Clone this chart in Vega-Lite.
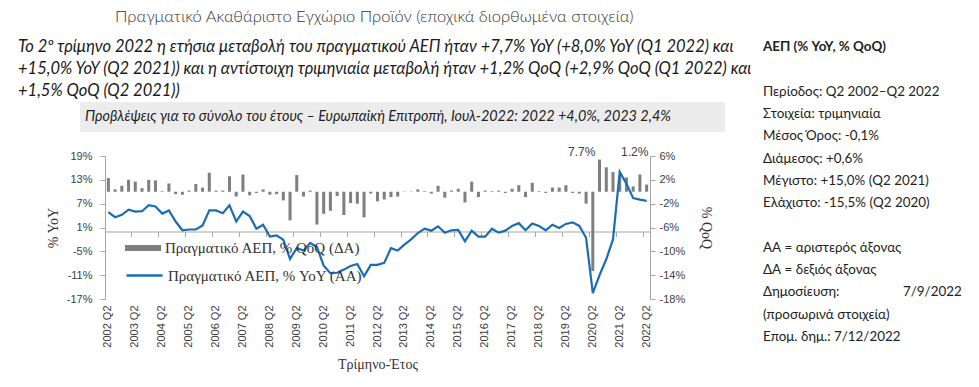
{
  "$schema": "https://vega.github.io/schema/vega-lite/v6.json",
  "background": "white",
  "padding": {"top": 8, "left": 0, "right": 0, "bottom": 0},
  "title": {"text": "Πραγματικό Ακαθάριστο Εγχώριο Προϊόν (εποχικά διορθωμένα στοιχεία)", "anchor": "start", "dx": 115, "offset": 11, "font": "Lato", "fontSize": 16.5, "fontWeight": 300, "color": "#333333"},
  "datasets": {
    "gdp": [
      {"q": "2002 Q2", "yoy": 4.9, "qoq": 2.3},
      {"q": "2002 Q3", "yoy": 3.6, "qoq": 0.4},
      {"q": "2002 Q4", "yoy": 4.2, "qoq": 1.0},
      {"q": "2003 Q1", "yoy": 5.5, "qoq": 2.0},
      {"q": "2003 Q2", "yoy": 5.0, "qoq": 1.7},
      {"q": "2003 Q3", "yoy": 5.1, "qoq": 0.6},
      {"q": "2003 Q4", "yoy": 6.6, "qoq": 2.0},
      {"q": "2004 Q1", "yoy": 6.3, "qoq": 1.9},
      {"q": "2004 Q2", "yoy": 4.5, "qoq": 0.1},
      {"q": "2004 Q3", "yoy": 5.3, "qoq": 1.4},
      {"q": "2004 Q4", "yoy": 2.5, "qoq": -0.4},
      {"q": "2005 Q1", "yoy": 0.3, "qoq": -0.5},
      {"q": "2005 Q2", "yoy": 0.5, "qoq": 0.2},
      {"q": "2005 Q3", "yoy": 0.5, "qoq": 1.3},
      {"q": "2005 Q4", "yoy": 1.5, "qoq": 0.7},
      {"q": "2006 Q1", "yoy": 5.3, "qoq": 3.2},
      {"q": "2006 Q2", "yoy": 5.3, "qoq": 0.2},
      {"q": "2006 Q3", "yoy": 4.6, "qoq": 0.2},
      {"q": "2006 Q4", "yoy": 6.6, "qoq": 2.6},
      {"q": "2007 Q1", "yoy": 2.5, "qoq": -0.8},
      {"q": "2007 Q2", "yoy": 5.0, "qoq": 2.9},
      {"q": "2007 Q3", "yoy": 3.9, "qoq": -0.6},
      {"q": "2007 Q4", "yoy": 0.7, "qoq": -0.2},
      {"q": "2008 Q1", "yoy": 1.7, "qoq": 0.4},
      {"q": "2008 Q2", "yoy": -1.3, "qoq": -0.5},
      {"q": "2008 Q3", "yoy": -1.0, "qoq": -0.4},
      {"q": "2008 Q4", "yoy": -2.1, "qoq": -1.45},
      {"q": "2009 Q1", "yoy": -6.9, "qoq": -4.8},
      {"q": "2009 Q2", "yoy": -4.2, "qoq": 2.8},
      {"q": "2009 Q3", "yoy": -4.8, "qoq": -0.8},
      {"q": "2009 Q4", "yoy": -2.9, "qoq": 0.2},
      {"q": "2010 Q1", "yoy": -3.9, "qoq": -5.5},
      {"q": "2010 Q2", "yoy": -8.6, "qoq": -3.7},
      {"q": "2010 Q3", "yoy": -10.5, "qoq": -3.2},
      {"q": "2010 Q4", "yoy": -10.4, "qoq": -0.7},
      {"q": "2011 Q1", "yoy": -9.6, "qoq": -3.9},
      {"q": "2011 Q2", "yoy": -8.7, "qoq": -1.9},
      {"q": "2011 Q3", "yoy": -8.2, "qoq": -2.0},
      {"q": "2011 Q4", "yoy": -11.3, "qoq": -4.3},
      {"q": "2012 Q1", "yoy": -8.4, "qoq": -0.3},
      {"q": "2012 Q2", "yoy": -8.4, "qoq": -1.6},
      {"q": "2012 Q3", "yoy": -7.9, "qoq": -1.3},
      {"q": "2012 Q4", "yoy": -4.2, "qoq": -0.9},
      {"q": "2013 Q1", "yoy": -4.8, "qoq": -0.8},
      {"q": "2013 Q2", "yoy": -3.3, "qoq": 0.05},
      {"q": "2013 Q3", "yoy": -2.0, "qoq": 0.05},
      {"q": "2013 Q4", "yoy": -0.4, "qoq": 0.4},
      {"q": "2014 Q1", "yoy": 0.7, "qoq": 0.1},
      {"q": "2014 Q2", "yoy": 0.2, "qoq": -0.3},
      {"q": "2014 Q3", "yoy": 1.3, "qoq": 1.0},
      {"q": "2014 Q4", "yoy": -0.3, "qoq": -1.0},
      {"q": "2015 Q1", "yoy": 0.3, "qoq": 0.2},
      {"q": "2015 Q2", "yoy": 0.4, "qoq": 0.5},
      {"q": "2015 Q3", "yoy": -2.5, "qoq": -1.8},
      {"q": "2015 Q4", "yoy": 0.2, "qoq": 1.7},
      {"q": "2016 Q1", "yoy": -1.3, "qoq": -0.9},
      {"q": "2016 Q2", "yoy": -1.3, "qoq": 0.2},
      {"q": "2016 Q3", "yoy": 0.7, "qoq": 0.1},
      {"q": "2016 Q4", "yoy": -0.3, "qoq": 0.2},
      {"q": "2017 Q1", "yoy": 0.2, "qoq": -0.2},
      {"q": "2017 Q2", "yoy": 1.4, "qoq": 0.5},
      {"q": "2017 Q3", "yoy": 2.1, "qoq": 1.1},
      {"q": "2017 Q4", "yoy": 0.3, "qoq": -0.9},
      {"q": "2018 Q1", "yoy": 2.0, "qoq": 1.5},
      {"q": "2018 Q2", "yoy": 1.4, "qoq": 0.1},
      {"q": "2018 Q3", "yoy": 0.3, "qoq": -0.2},
      {"q": "2018 Q4", "yoy": 1.7, "qoq": 0.7},
      {"q": "2019 Q1", "yoy": 0.9, "qoq": 0.7},
      {"q": "2019 Q2", "yoy": 1.9, "qoq": 1.1},
      {"q": "2019 Q3", "yoy": 2.3, "qoq": -0.2},
      {"q": "2019 Q4", "yoy": 1.4, "qoq": -0.3},
      {"q": "2020 Q1", "yoy": -1.6, "qoq": -2.0},
      {"q": "2020 Q2", "yoy": -15.5, "qoq": -13.3},
      {"q": "2020 Q3", "yoy": -11.0, "qoq": 5.4},
      {"q": "2020 Q4", "yoy": -7.0, "qoq": 4.1},
      {"q": "2021 Q1", "yoy": -2.0, "qoq": 3.3},
      {"q": "2021 Q2", "yoy": 15.0, "qoq": 2.7},
      {"q": "2021 Q3", "yoy": 12.0, "qoq": 2.4},
      {"q": "2021 Q4", "yoy": 8.4, "qoq": 0.9},
      {"q": "2022 Q1", "yoy": 8.0, "qoq": 2.9},
      {"q": "2022 Q2", "yoy": 7.7, "qoq": 1.2}
    ],
    "para": [
      {"line": 1, "text": "Το 2º τρίμηνο 2022 η ετήσια μεταβολή του πραγματικού ΑΕΠ ήταν +7,7% YoY (+8,0% YoY (Q1 2022) και"},
      {"line": 2, "text": "+15,0% YoY (Q2 2021)) και η αντίστοιχη τριμηνιαία μεταβολή ήταν +1,2% QoQ (+2,9% QoQ (Q1 2022) και"},
      {"line": 3, "text": "+1,5% QoQ (Q2 2021))"}
    ],
    "info": [
      {"k": 0, "text": "ΑΕΠ (% YoY, % QoQ)"},
      {"k": 1, "text": ""},
      {"k": 2, "text": "Περίοδος: Q2 2002–Q2 2022"},
      {"k": 3, "text": "Στοιχεία: τριμηνιαία"},
      {"k": 4, "text": "Μέσος Όρος: -0,1%"},
      {"k": 5, "text": "Διάμεσος: +0,6%"},
      {"k": 6, "text": "Μέγιστο: +15,0% (Q2 2021)"},
      {"k": 7, "text": "Ελάχιστο: -15,5% (Q2 2020)"},
      {"k": 8, "text": ""},
      {"k": 9, "text": "ΑΑ = αριστερός άξονας"},
      {"k": 10, "text": "ΔΑ = δεξιός άξονας"},
      {"k": 11, "text": "Δημοσίευση:", "right": "7/9/2022"},
      {"k": 12, "text": "(προσωρινά στοιχεία)"},
      {"k": 13, "text": "Επομ. δημ.: 7/12/2022"}
    ]
  },
  "spacing": 10,
  "hconcat": [
    {
      "spacing": 0,
      "vconcat": [
        {
          "width": 745, "height": 66,
          "data": {"name": "para"},
          "mark": {"type": "text", "align": "left", "baseline": "middle", "font": "Lato", "fontSize": 16.5, "fontStyle": "italic", "color": "#1a1a1a", "dx": 18},
          "encoding": {
            "x": {"value": 0},
            "y": {"field": "line", "type": "ordinal", "axis": null},
            "text": {"field": "text"}
          }
        },
        {
          "bounds": "flush",
          "spacing": 0,
          "hconcat": [
            {"width": 80, "height": 30, "data": {"values": [{}]}, "mark": {"type": "text", "text": ""}},
            {
              "width": 645, "height": 30,
              "view": {"fill": "#ececec", "stroke": null},
              "data": {"values": [{"text": "Προβλέψεις για το σύνολο του έτους – Ευρωπαϊκή Επιτροπή, Ιουλ-2022: 2022 +4,0%, 2023 2,4%"}]},
              "mark": {"type": "text", "align": "left", "baseline": "middle", "font": "Lato", "fontSize": 14.4, "fontStyle": "italic", "color": "#222222", "dx": 5},
              "encoding": {"x": {"value": 0}, "text": {"field": "text"}}
            }
          ]
        },
        {"width": 725, "height": 14, "data": {"values": [{}]}, "mark": {"type": "text", "text": ""}},
        {
          "bounds": "flush",
          "spacing": 0,
          "hconcat": [
            {"width": 105, "height": 143, "data": {"values": [{}]}, "mark": {"type": "text", "text": ""}},
            {
              "width": 545, "height": 143,
              "data": {"name": "gdp"},
              "layer": [
                {
                  "mark": {"type": "bar", "width": {"band": 0.45}},
                  "encoding": {
                    "x": {
                      "field": "q", "type": "ordinal", "sort": null,
                      "scale": {"type": "band", "paddingInner": 0, "paddingOuter": 0},
                      "axis": {
                        "orient": "bottom",
                        "values": ["2002 Q2","2003 Q2","2004 Q2","2005 Q2","2006 Q2","2007 Q2","2008 Q2","2009 Q2","2010 Q2","2011 Q2","2012 Q2","2013 Q2","2014 Q2","2015 Q2","2016 Q2","2017 Q2","2018 Q2","2019 Q2","2020 Q2","2021 Q2","2022 Q2"],
                        "labelAngle": -90, "labelAlign": "right", "labelBaseline": "middle", "labelPadding": 6,
                        "labelFont": "Liberation Sans", "labelFontSize": 11, "labelColor": "#404040", "labelOverlap": false,
                        "ticks": false, "domain": false,
                        "title": "Τρίμηνο-Έτος", "titleFont": "Liberation Serif", "titleFontSize": 14, "titleFontWeight": "normal", "titleColor": "#333333", "titlePadding": 10
                      }
                    },
                    "y": {
                      "field": "qoq", "type": "quantitative",
                      "scale": {"domain": [-18, 6], "nice": false, "zero": false},
                      "axis": {
                        "orient": "right", "values": [-18, -14, -10, -6, -2, 2, 6],
                        "labelExpr": "datum.value + '%'", "labelFont": "Liberation Sans", "labelFontSize": 11, "labelColor": "#404040", "labelOverlap": false,
                        "tickSize": 5, "tickColor": "#a6a6a6", "domainColor": "#a6a6a6", "labelPadding": 4, "grid": false,
                        "title": "% QoQ", "titleFont": "Liberation Serif", "titleFontSize": 14, "titleFontWeight": "normal", "titleColor": "#333333", "titlePadding": 14
                      }
                    },
                    "color": {
                      "datum": "Πραγματικό ΑΕΠ, % QoQ (ΔΑ)",
                      "scale": {"range": ["#7f7f7f"]},
                      "legend": {
                        "orient": "none", "legendX": 125, "legendY": 194, "title": null,
                        "symbolType": "M-1,-0.17H1V0.17H-1Z", "symbolSize": 1296, "symbolStrokeWidth": 0,
                        "labelFont": "Liberation Serif", "labelFontSize": 15, "labelColor": "#333333", "labelLimit": 0, "labelOffset": 4
                      }
                    }
                  }
                },
                {
                  "mark": {"type": "line", "strokeWidth": 2.2},
                  "encoding": {
                    "x": {
                      "field": "q", "type": "ordinal", "sort": null,
                      "axis": {
                        "orient": "top", "offset": -75.5, "labels": false, "title": null,
                        "values": ["2002 Q2","2003 Q2","2004 Q2","2005 Q2","2006 Q2","2007 Q2","2008 Q2","2009 Q2","2010 Q2","2011 Q2","2012 Q2","2013 Q2","2014 Q2","2015 Q2","2016 Q2","2017 Q2","2018 Q2","2019 Q2","2020 Q2","2021 Q2","2022 Q2"],
                        "bandPosition": 0, "tickSize": -5, "tickColor": "#a6a6a6", "domainColor": "#a6a6a6", "grid": false
                      }
                    },
                    "y": {
                      "field": "yoy", "type": "quantitative",
                      "scale": {"domain": [-17, 19], "nice": false, "zero": false},
                      "axis": {
                        "orient": "left", "values": [-17, -11, -5, 1, 7, 13, 19],
                        "labelExpr": "datum.value + '%'", "labelFont": "Liberation Sans", "labelFontSize": 11, "labelColor": "#404040", "labelOverlap": false,
                        "tickSize": 5, "tickColor": "#a6a6a6", "domainColor": "#a6a6a6", "labelPadding": 8, "grid": false,
                        "title": "% YoY", "titleFont": "Liberation Serif", "titleFontSize": 14, "titleFontWeight": "normal", "titleColor": "#333333", "titlePadding": 6
                      }
                    },
                    "stroke": {
                      "datum": "Πραγματικό ΑΕΠ, % YoY (ΑΑ)",
                      "scale": {"range": ["#1b6db3"]},
                      "legend": {
                        "orient": "none", "legendX": 125, "legendY": 220, "title": null,
                        "symbolType": "stroke", "symbolSize": 1296, "symbolStrokeWidth": 2.5,
                        "labelFont": "Liberation Serif", "labelFontSize": 15, "labelColor": "#333333", "labelLimit": 0, "labelOffset": 4
                      }
                    }
                  }
                },
                {
                  "transform": [{"filter": "datum.q == '2022 Q2'"}],
                  "layer": [
                    {
                      "mark": {"type": "text", "text": "7.7%", "font": "Liberation Sans", "fontSize": 12, "color": "#404040", "align": "center", "baseline": "middle", "dx": -65}
                    },
                    {
                      "mark": {"type": "text", "text": "1.2%", "font": "Liberation Sans", "fontSize": 12, "color": "#404040", "align": "center", "baseline": "middle", "dx": -12}
                    }
                  ],
                  "encoding": {
                    "x": {"field": "q", "type": "ordinal", "sort": null, "axis": null},
                    "y": {"datum": 20, "type": "quantitative", "axis": null, "scale": {"domain": [-17, 19], "nice": false, "zero": false}}
                  }
                }
              ],
              "resolve": {"scale": {"y": "independent"}, "axis": {"x": "independent", "y": "independent"}}
            }
          ]
        }
      ]
    },
    {
      "width": 224, "height": 312,
      "data": {"name": "info"},
      "layer": [
        {
          "transform": [{"filter": "datum.k == 0"}],
          "mark": {"type": "text", "align": "left", "baseline": "middle", "font": "Lato", "fontSize": 13.4, "fontWeight": "bold", "color": "#222222"},
          "encoding": {
            "x": {"value": 0},
            "y": {"field": "k", "type": "ordinal", "axis": null, "scale": {"domain": [0,1,2,3,4,5,6,7,8,9,10,11,12,13]}},
            "text": {"field": "text"}
          }
        },
        {
          "transform": [{"filter": "datum.k > 0"}],
          "mark": {"type": "text", "align": "left", "baseline": "middle", "font": "Lato", "fontSize": 13.4, "color": "#222222"},
          "encoding": {
            "x": {"value": 0},
            "y": {"field": "k", "type": "ordinal", "axis": null},
            "text": {"field": "text"}
          }
        },
        {
          "transform": [{"filter": "datum.right != null"}],
          "mark": {"type": "text", "align": "left", "baseline": "middle", "font": "Lato", "fontSize": 13.4, "color": "#222222", "dx": 140},
          "encoding": {
            "x": {"value": 0},
            "y": {"field": "k", "type": "ordinal", "axis": null},
            "text": {"field": "right"}
          }
        }
      ]
    }
  ],
  "config": {
    "view": {"stroke": null},
    "axis": {"grid": false, "labelOverlap": false},
    "legend": {"padding": 0}
  }
}
